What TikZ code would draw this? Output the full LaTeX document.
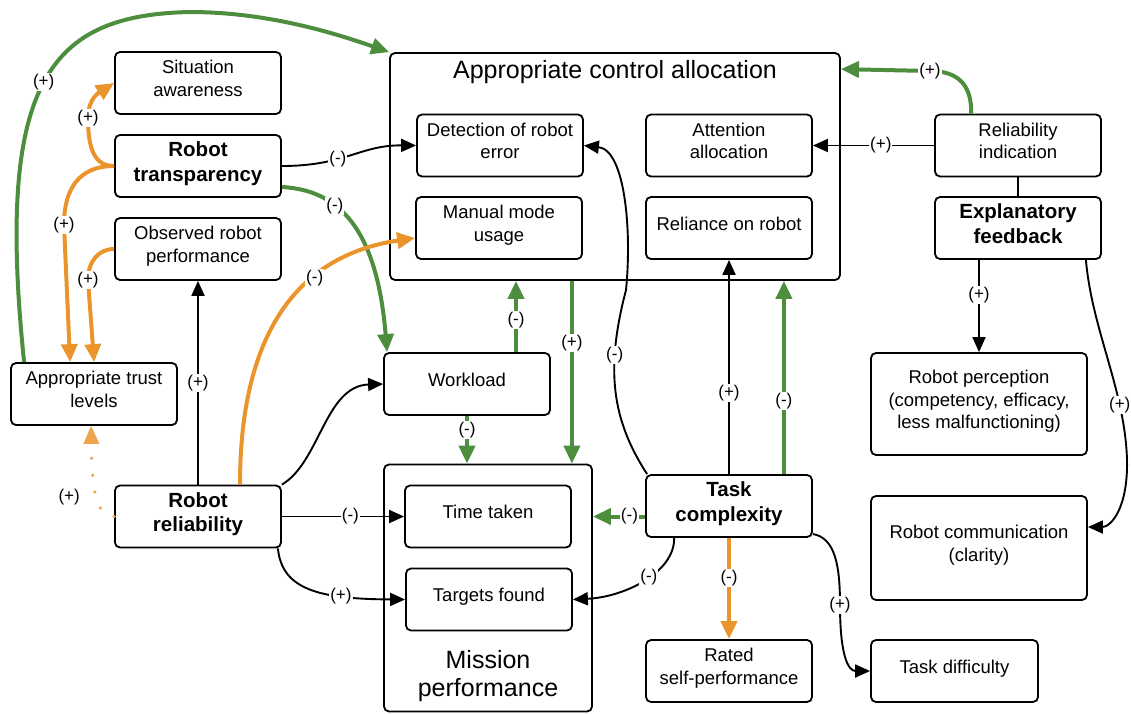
\documentclass[tikz,border=0pt]{standalone}
\usepackage{fontspec}
\setmainfont{Liberation Sans}
\usetikzlibrary{arrows.meta}

\definecolor{linkgreen}{RGB}{76,141,62}
\definecolor{linkorange}{RGB}{236,148,44}

\begin{document}
\begin{tikzpicture}[x=1pt, y=-1pt,
    box/.style={draw, line width=1.8pt, rounded corners=5pt, minimum width=166pt, minimum height=62pt,
      align=center, inner sep=2pt, font=\fontsize{18.5}{22.5}\selectfont,
      execute at end node={\rule[-9pt]{0pt}{9pt}}},
    boldbox/.style={box, font=\fontsize{20.5}{24.5}\selectfont\bfseries},
    conn/.style={line width=1.9pt, -{Triangle[length=15pt,width=13pt]}},
    gconn/.style={linkgreen, line width=4pt, -{Triangle[length=18pt,width=16pt]}},
    oconn/.style={linkorange, line width=4pt, -{Triangle[length=18pt,width=16pt]}},
    lbl/.style={fill=white, text=black, inner sep=1pt, font=\fontsize{17}{17}\selectfont}]
  \useasboundingbox (0,0) rectangle (1131,713);

  % Big boxes
  \node[draw, line width=1.8pt, rounded corners=5pt, minimum width=450pt, minimum height=227pt] (aca) at (615,166.5) {};
  \node[font=\fontsize{25}{30}\selectfont] (acatitle) at (615,72) {Appropriate control allocation};
  \node[draw, line width=1.8pt, rounded corners=5pt, minimum width=208pt, minimum height=247pt] (mission) at (488,588) {};
  \node[align=center, font=\fontsize{25}{28.5}\selectfont] (missiontitle) at (488,676) {Mission\\performance};

  % Left column
  \node[box] (sa) at (198,83) {Situation\\awareness};
  \node[boldbox] (transp) at (198,166) {Robot\\transparency};
  \node[box] (obsperf) at (198,249) {Observed robot\\performance};
  \node[box] (trust) at (94,394) {Appropriate trust\\levels};
  \node[boldbox] (reliab) at (198,516.5) {Robot\\reliability};

  % Inside control allocation
  \node[box] (detect) at (500,145.5) {Detection of robot\\error};
  \node[box] (attn) at (729,145.5) {Attention\\allocation};
  \node[box] (manual) at (499,228) {Manual mode\\usage};
  \node[box] (reliance) at (729,228) {Reliance on robot};

  % Middle
  \node[box] (workload) at (467,384) {Workload};
  \node[box] (timetk) at (488,516.5) {Time taken};
  \node[box] (targets) at (489,599.5) {Targets found};
  \node[boldbox] (taskc) at (729,506) {Task\\complexity};
  \node[box] (selfperf) at (729,671) {Rated\\self-performance};

  % Right column
  \node[box] (relind) at (1018,145.5) {Reliability\\indication};
  \node[boldbox] (explfb) at (1018,228) {Explanatory\\feedback};
  \node[box, minimum width=216pt, minimum height=102pt] (perception) at (979,404)
    {Robot perception\\(competency, efficacy,\\less malfunctioning)};
  \node[box, minimum width=216pt, minimum height=104pt] (comm) at (979,548) {Robot communication\\(clarity)};
  \node[box, minimum width=167pt] (difficulty) at (954.5,671) {Task difficulty};

  % Links into control allocation
  \draw[gconn] ([xshift=14pt]trust.north west) .. controls (-5,80) and (50,15) .. (190,12) node[lbl,pos=.5]{(+)}
    .. controls (270,12) and (340,35) .. (aca.north west);
  \draw[gconn] ([xshift=37pt]relind.north west) .. controls (972,85) and (958,71) .. (930,71) node[lbl]{(+)}
    -- ([yshift=-17pt]aca.north east);
  \draw[conn] (relind.west) -- node[lbl,pos=.44]{(+)} (attn.east);
  \draw[line width=1.9pt] (relind.south) -- (explfb.north);

  % Explanatory feedback
  \draw[conn] (explfb.south -| perception.north) -- node[lbl,pos=.38]{(+)} (perception.north);
  \draw[conn] ([xshift=-16pt]explfb.south east) .. controls (1092,330) and (1125,390) .. (1127,460) node[lbl,pos=.73]{(+)}
    .. controls (1128,510) and (1110,527) .. ([yshift=21pt]comm.east);

  % Robot transparency
  \draw[conn] (transp.east) .. controls (345,166) and (360,145) .. (detect.west) node[lbl,pos=.38]{(-)};
  \draw[gconn] ([yshift=-21pt]transp.east) .. controls (340,190) and (377,230) .. ([xshift=4pt]workload.north west)
    node[lbl,pos=.35]{(-)};
  \draw[oconn] (transp.west) .. controls (95,166) and (88,150) .. (88,118) node[lbl]{(+)}
    .. controls (88,98) and (100,92) .. (sa.west);
  \draw[oconn] (transp.west) .. controls (78,166) and (64,190) .. (64,225) node[lbl]{(+)}
    -- ([xshift=60pt]trust.north west);
  \draw[oconn] (obsperf.west) .. controls (98,249) and (88,262) .. (88,280) node[lbl]{(+)}
    -- ([xshift=84pt]trust.north west);

  % Robot reliability
  \draw[conn] (reliab.north) -- node[lbl]{(+)} (obsperf.south);
  \draw[oconn] ([xshift=42pt]reliab.north) .. controls (240,330) and (300,255) .. ([yshift=-10pt]manual.west)
    node[lbl,pos=.65]{(-)};
  \draw[conn] (reliab.north east) .. controls (320,462) and (325,386) .. (workload.west);
  \draw[conn] (reliab.east) -- node[lbl,pos=.56]{(-)} (timetk.west);
  \draw[conn] ([xshift=-4pt]reliab.south east) .. controls (282,590) and (320,599) .. (targets.west)
    node[lbl,pos=.7]{(+)};
  \draw[linkorange!85, line width=3.5pt, line cap=round, dash pattern=on 0pt off 17pt,
      -{Triangle[length=18pt,width=16pt,line width=0pt]}]
    (reliab.west) .. controls (97,516) and (92,495) .. ([xshift=81pt]trust.south west)
    node[lbl, fill=none, pos=.5, left=14pt]{(+)};

  % Workload and allocation into mission performance
  \draw[gconn] ([xshift=49pt]workload.north) -- node[lbl,pos=.45]{(-)} ([xshift=49pt]workload.north |- aca.south);
  \draw[gconn] ([xshift=-21pt]mission.north east |- aca.south) -- node[lbl,pos=.34]{(+)} ([xshift=-21pt]mission.north east);
  \draw[gconn] (workload.south) -- node[lbl,pos=.3]{(-)} (workload.south |- mission.north);

  % Task complexity
  \draw[conn] ([xshift=2pt]taskc.north west) .. controls (612,420) and (605,370) .. (626,290) node[lbl,pos=.7]{(-)}
    .. controls (632,230) and (625,150) .. (detect.east);
  \draw[conn] (taskc.north) -- node[lbl,pos=.38]{(+)} (reliance.south);
  \draw[gconn] ([xshift=-29pt]taskc.north east) -- node[lbl,pos=.38]{(-)} ([xshift=-29pt]taskc.north east |- aca.south);
  \draw[gconn] (taskc.west |- timetk) -- node[lbl,pos=.3]{(-)} (timetk -| mission.east);
  \draw[conn] ([xshift=29pt]taskc.south west) .. controls (675,572) and (625,597) .. (targets.east) node[lbl,pos=.45]{(-)};
  \draw[oconn] (taskc.south) -- node[lbl,pos=.4]{(-)} (selfperf.north);
  \draw[conn] ([yshift=-28pt]taskc.east) .. controls (835,538) and (840,565) .. (840,605) node[lbl]{(+)}
    .. controls (840,655) and (848,671) .. (difficulty.west);
\end{tikzpicture}
\end{document}
